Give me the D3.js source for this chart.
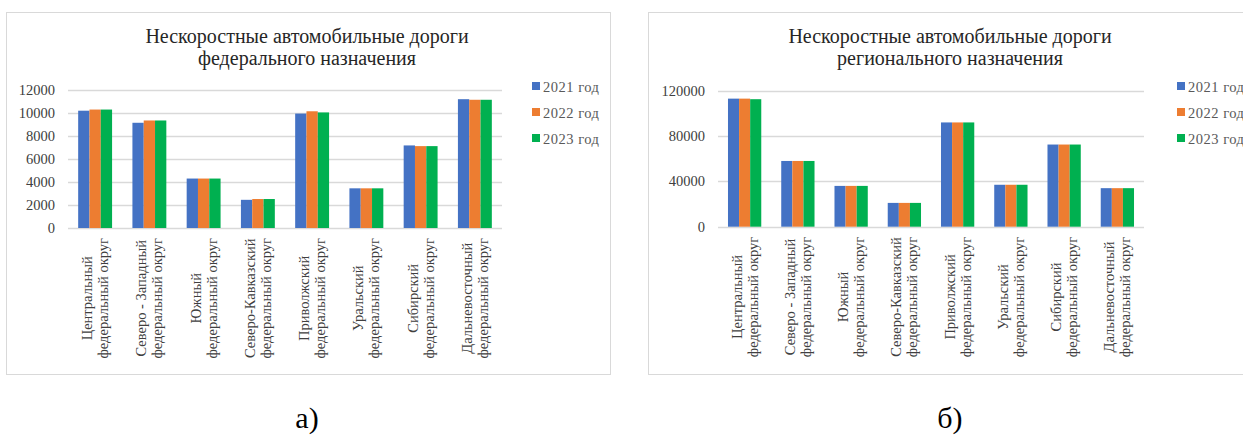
<!DOCTYPE html>
<html>
<head>
<meta charset="utf-8">
<script src="https://cdn.jsdelivr.net/npm/d3@7"></script>
<style>
  body { margin: 0; background: #fff; }
  svg text { font-family: "Liberation Serif", serif !important; }
</style>
</head>
<body>
<svg id="chart"></svg>
<script>
// districts (two-line labels)
var districts = [
  ["Центральный", "федеральный округ"],
  ["Северо - Западный", "федеральный округ"],
  ["Южный", "федеральный округ"],
  ["Северо-Кавказский", "федеральный округ"],
  ["Приволжский", "федеральный округ"],
  ["Уральский", "федеральный округ"],
  ["Сибирский", "федеральный округ"],
  ["Дальневосточный", "федеральный округ"]
]
var years = ["2021 год", "2022 год", "2023 год"]
var colors = ["#4472c4", "#ed7d31", "#00b050"]

// federal roads, km
var fed2021 = [10200, 9150, 4300, 2450, 9950, 3450, 7180, 11200]
var fed2022 = [10300, 9350, 4300, 2520, 10150, 3450, 7120, 11150]
var fed2023 = [10300, 9350, 4300, 2520, 10050, 3450, 7120, 11150]
var fedTicks = [0, 2000, 4000, 6000, 8000, 10000, 12000]

// regional roads, km
var reg2021 = [113000, 58000, 36000, 21000, 92000, 37000, 72500, 34000]
var reg2022 = [113000, 58000, 36000, 21000, 92000, 37000, 72500, 34000]
var reg2023 = [112500, 58000, 36000, 21000, 92000, 37000, 72500, 34000]
var regTicks = [0, 40000, 80000, 120000]

var FONT = "'Liberation Serif', serif"

var svg = d3.select("#chart").attr("width", 1243).attr("height", 436)

var label = function(sel){
  return sel.append("text").style("font-family", FONT)
}

var drawPanel = function(opt){
  var g = svg.append("g")

  g.append("rect")
    .attr("x", opt.box[0] + 0.5).attr("y", opt.box[1] + 0.5)
    .attr("width", opt.box[2]).attr("height", opt.box[3])
    .attr("fill", "#fff").attr("stroke", "#d9d9d9")

  // title
  opt.title.forEach(function(line, i){
    label(g)
      .attr("x", opt.titleX).attr("y", 43 + i * 22)
      .attr("text-anchor", "middle")
      .attr("font-size", "20px")
      .attr("fill", "#262626")
      .text(line)
  })

  var x = d3.scaleBand().domain(d3.range(districts.length))
    .range([opt.left, opt.right]).paddingInner(0).paddingOuter(0)
  var x1 = d3.scaleBand().domain(d3.range(years.length))
    .range([0, x.bandwidth()]).paddingInner(0).paddingOuter(0.9)
  var y = d3.scaleLinear().domain([0, opt.max]).range([opt.bottom, opt.top])

  // gridlines
  g.selectAll(".grid").data(opt.ticks).enter().append("line")
    .attr("x1", opt.left).attr("x2", opt.right)
    .attr("y1", function(d){ return Math.round(y(d)) + 0.5 })
    .attr("y2", function(d){ return Math.round(y(d)) + 0.5 })
    .attr("stroke", "#d9d9d9").attr("stroke-width", 1.3)

  // y tick labels
  opt.ticks.forEach(function(d){
    label(g)
      .attr("x", opt.left - 13).attr("y", y(d) + 5)
      .attr("text-anchor", "end")
      .attr("font-size", "14.5px")
      .attr("fill", "#404040")
      .text(d)
  })

  // bars
  opt.series.forEach(function(vals, s){
    g.selectAll(".bar" + s).data(vals).enter().append("rect")
      .attr("x", function(d, i){ return x(i) + x1(s) })
      .attr("width", x1.bandwidth())
      .attr("y", function(d){ return y(d) })
      .attr("height", function(d){ return y(0) - y(d) })
      .attr("fill", colors[s])
  })

  // category labels (rotated, lines centred on the longest line)
  districts.forEach(function(lines, i){
    var cx = x(i) + x.bandwidth() / 2
    var t = label(g)
      .attr("text-anchor", "middle")
      .attr("font-size", "14.5px")
      .attr("fill", "#404040")
    t.append("tspan").attr("x", 0).attr("y", -3).text(lines[0])
    t.append("tspan").attr("x", 0).attr("y", 13).text(lines[1])
    var longest = 0
    t.selectAll("tspan").each(function(){
      longest = Math.max(longest, this.getComputedTextLength())
    })
    var cy = opt.bottom + 10 + longest / 2
    t.attr("transform", "translate(" + cx + "," + cy + ") rotate(-90)")
  })

  // legend
  years.forEach(function(name, i){
    var ly = 87 + i * 26
    g.append("rect")
      .attr("x", opt.legendX).attr("y", ly - 5)
      .attr("width", 8).attr("height", 8)
      .attr("fill", colors[i])
    label(g)
      .attr("x", opt.legendX + 11).attr("y", ly + 5)
      .attr("font-size", "14.5px")
      .attr("fill", "#595959")
      .attr("letter-spacing", "0.5px")
      .text(name)
  })

  // caption under the panel
  label(svg)
    .attr("x", opt.titleX).attr("y", 428)
    .attr("text-anchor", "middle")
    .attr("font-size", "30px")
    .attr("fill", "#000")
    .text(opt.caption)
}

drawPanel({
  box: [6, 12, 604, 362],
  title: ["Нескоростные автомобильные дороги", "федерального назначения"],
  titleX: 307,
  left: 68, right: 502, top: 90, bottom: 228,
  max: 12000, ticks: fedTicks,
  series: [fed2021, fed2022, fed2023],
  legendX: 532,
  caption: "а)"
})

drawPanel({
  box: [648, 12, 600, 362],
  title: ["Нескоростные автомобильные дороги", "регионального назначения"],
  titleX: 950,
  left: 718, right: 1144, top: 90.7, bottom: 226.7,
  max: 120000, ticks: regTicks,
  series: [reg2021, reg2022, reg2023],
  legendX: 1177,
  caption: "б)"
})
</script>
</body>
</html>
